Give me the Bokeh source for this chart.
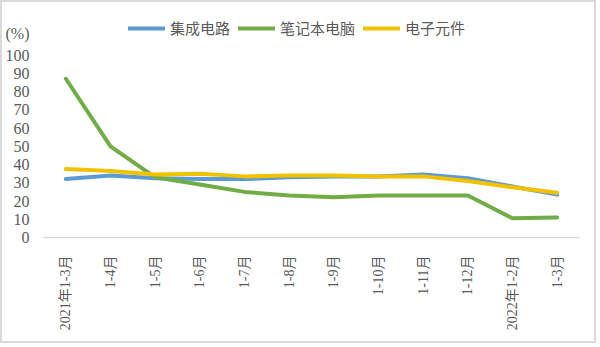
from bokeh.plotting import figure
from bokeh.models import Range1d, FixedTicker, Legend, LegendItem
from bokeh.embed import file_html
from bokeh.resources import INLINE
import math

months = ["2021年1-3月", "1-4月", "1-5月", "1-6月", "1-7月", "1-8月", "1-9月",
          "1-10月", "1-11月", "1-12月", "2022年1-2月", "1-3月"]
ic = [32, 34, 32.5, 32, 32, 33, 33.5, 33.5, 34.5, 32.5, 28, 23.5]
laptop = [87, 50, 33, 29, 25, 23, 22, 23, 23, 23, 10.5, 11]
components = [37.5, 36.5, 34.5, 35, 33.5, 34, 34, 33.5, 33.5, 31, 27.5, 24.5]
series_names = ["集成电路", "笔记本电脑", "电子元件"]
y_ticks = list(range(0, 101, 10))
unit_label = "(%)"
unit_pos = 112

FONT = "'Liberation Serif', 'Noto Sans CJK SC'"
TXT = "#595959"

p = figure(width=596, height=343, x_range=months, y_range=Range1d(0, 128.8),
           output_backend="svg", toolbar_location=None,
           min_border_left=41, min_border_right=19, min_border_top=0,
           min_border_bottom=108)
p.styles = {"border": "2px solid #DADADA"}
p.outline_line_color = None
p.background_fill_color = "white"
p.border_fill_color = "white"
p.xgrid.grid_line_color = None
p.ygrid.grid_line_color = None

colors = ["#5B9BD5", "#70AD47", "#F2C200"]
rs = []
for vals, c in zip([ic, laptop, components], colors):
    r = p.line(months, vals, line_color=c, line_width=4, line_join="round", line_cap="round")
    rs.append(r)

p.yaxis.ticker = FixedTicker(ticks=y_ticks + [unit_pos])
p.yaxis.major_label_overrides = {unit_pos: unit_label}
p.yaxis.axis_line_color = None
p.yaxis.major_tick_line_color = None
p.yaxis.minor_tick_line_color = None
p.yaxis.major_label_standoff = 8
p.yaxis.major_label_text_font = FONT
p.yaxis.major_label_text_font_size = "16px"
p.yaxis.major_label_text_color = TXT

p.xaxis.axis_line_color = "#D9D9D9"
p.xaxis.axis_line_width = 1.5
p.xaxis.major_tick_line_color = None
p.xaxis.minor_tick_line_color = None
p.xaxis.major_label_orientation = math.pi / 2
p.xaxis.major_label_standoff = 12
p.xaxis.major_label_text_font = FONT
p.xaxis.major_label_text_font_size = "14px"
p.xaxis.major_label_text_color = TXT

legend = Legend(items=[LegendItem(label=n, renderers=[r]) for n, r in zip(series_names, rs)],
                orientation="horizontal", location=(85, 199),
                glyph_width=37, glyph_height=16, label_standoff=5, spacing=8,
                padding=0, margin=0, border_line_color=None,
                background_fill_alpha=0,
                label_text_font=FONT, label_text_font_size="15px",
                label_text_color=TXT)
p.add_layout(legend, "center")

open("out.html", "w").write(file_html(p, INLINE))
